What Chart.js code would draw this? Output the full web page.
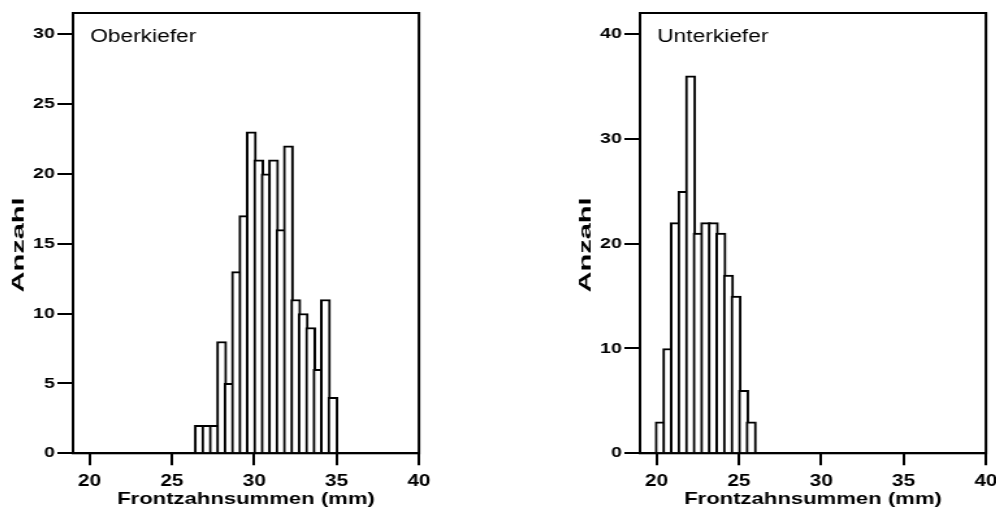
<!DOCTYPE html>
<html lang="de">
<head>
  <meta charset="UTF-8" />
  <title>Frontzahnsummen Ober- und Unterkiefer</title>
  <script src="https://cdn.jsdelivr.net/npm/chart.js"></script>
  <style>
    html, body { margin: 0; padding: 0; background: #fff; overflow: hidden; }
    body { width: 996px; height: 516px; position: relative; }
    /* the reference is stretched horizontally, so each panel is drawn narrow and scaled */
    .panel {
      position: absolute;
      top: 0;
      width: 332px;
      height: 516px;
      transform: scaleX(1.3);
      transform-origin: 0 0;
    }
    #panelOber { left: 7.7px; }
    #panelUnter { left: 574.5px; }
  </style>
</head>
<body>
  <div class="panel" id="panelOber"><canvas id="chartOber"></canvas></div>
  <div class="panel" id="panelUnter"><canvas id="chartUnter"></canvas></div>

  <script>
    // x axis (mm)
    const X_MIN = 19;
    const X_MAX = 40;
    const xTicks = [20, 25, 30, 35, 40];

    // Oberkiefer: bin centres (0.45 mm bins from 26.45 to 35.0) and counts
    const oberBins = [26.675, 27.125, 27.575, 28.025, 28.475, 28.925, 29.375, 29.825, 30.275, 30.725,
                      31.175, 31.625, 32.075, 32.525, 32.975, 33.425, 33.875, 34.325, 34.775];
    const oberCounts = [2, 2, 2, 8, 5, 13, 17, 23, 21, 20, 21, 16, 22, 11, 10, 9, 6, 11, 4];
    const oberBinWidth = 0.45;
    const oberYMax = 31.5;
    const oberYTicks = [0, 5, 10, 15, 20, 25, 30];

    // Unterkiefer: bin centres (0.46 mm bins from 20.0 to 25.98) and counts
    const unterBins = [20.23, 20.69, 21.15, 21.61, 22.07, 22.53, 22.99, 23.45, 23.91, 24.37, 24.83, 25.29, 25.75];
    const unterCounts = [3, 10, 22, 25, 36, 21, 22, 22, 21, 17, 15, 6, 3];
    const unterBinWidth = 0.46;
    const unterYMax = 42;
    const unterYTicks = [0, 10, 20, 30, 40];

    const FONT = '"Liberation Sans", Arial, sans-serif';
    const PANEL_W = 332;
    const AXIS_W = 50;
    const AXIS_H = 62.7;
    const PLOT_W = 266.8;

    function rahmen(name) {
      return {
        id: 'rahmen',
        afterDatasetsDraw(chart) {
          const { ctx, chartArea: a } = chart;
          ctx.save();
          ctx.strokeStyle = '#000';
          ctx.lineWidth = 2;
          ctx.strokeRect(a.left, a.top, a.right - a.left, a.bottom - a.top);

          ctx.fillStyle = '#000';
          ctx.font = '17.5px ' + FONT;
          ctx.textAlign = 'left';
          ctx.textBaseline = 'alphabetic';
          ctx.fillText(name, a.left + 13.2, 42);

          // y title, drawn by hand to get its odd proportions
          ctx.translate(8.7, 245);
          ctx.rotate(-Math.PI / 2);
          ctx.font = 'bold 12.5px ' + FONT;
          const w = ctx.measureText('Anzahl').width;
          ctx.scale(95 / w, 1);
          ctx.textAlign = 'center';
          ctx.textBaseline = 'middle';
          ctx.fillText('Anzahl', 0, 0);
          ctx.restore();
        }
      };
    }

    function histogramm(id, bins, counts, binWidth, yMax, yTicks, name) {
      const pxProMm = PLOT_W / (X_MAX - X_MIN);
      return new Chart(document.getElementById(id), {
        type: 'bar',
        data: {
          datasets: [{
            data: bins.map((x, i) => ({ x: x, y: counts[i] })),
            backgroundColor: '#fff',
            borderColor: '#000',
            borderWidth: 2,
            barThickness: binWidth * pxProMm + 2
          }]
        },
        options: {
          responsive: true,
          maintainAspectRatio: false,
          animation: false,
          layout: { padding: { top: 13, right: PANEL_W - AXIS_W - PLOT_W, left: 0, bottom: 0 } },
          plugins: {
            legend: { display: false },
            tooltip: { enabled: false }
          },
          scales: {
            x: {
              type: 'linear',
              min: X_MIN,
              max: X_MAX,
              offset: false,
              afterBuildTicks: s => { s.ticks = xTicks.map(v => ({ value: v })); },
              afterFit: s => { s.height = AXIS_H; },
              grid: { offset: false, drawOnChartArea: false, color: '#000', lineWidth: 2, tickLength: 12 },
              border: { color: '#000', width: 2 },
              ticks: {
                color: '#000',
                autoSkip: false,
                maxRotation: 0,
                padding: 7,
                font: { family: FONT, size: 16, weight: 'bold' }
              },
              title: {
                display: true,
                text: 'Frontzahnsummen (mm)',
                color: '#000',
                font: { family: FONT, size: 17, weight: 'bold' },
                padding: { top: 0, bottom: 6 }
              }
            },
            y: {
              min: 0,
              max: yMax,
              afterBuildTicks: s => { s.ticks = yTicks.map(v => ({ value: v })); },
              afterFit: s => { s.width = AXIS_W; },
              grid: { drawOnChartArea: false, color: '#000', lineWidth: 2, tickLength: 12 },
              border: { color: '#000', width: 2 },
              ticks: {
                color: '#000',
                autoSkip: false,
                padding: 2,
                font: { family: FONT, size: 15, weight: 'bold' }
              }
            }
          }
        },
        plugins: [rahmen(name)]
      });
    }

    histogramm('chartOber', oberBins, oberCounts, oberBinWidth, oberYMax, oberYTicks, 'Oberkiefer');
    histogramm('chartUnter', unterBins, unterCounts, unterBinWidth, unterYMax, unterYTicks, 'Unterkiefer');
  </script>
</body>
</html>
